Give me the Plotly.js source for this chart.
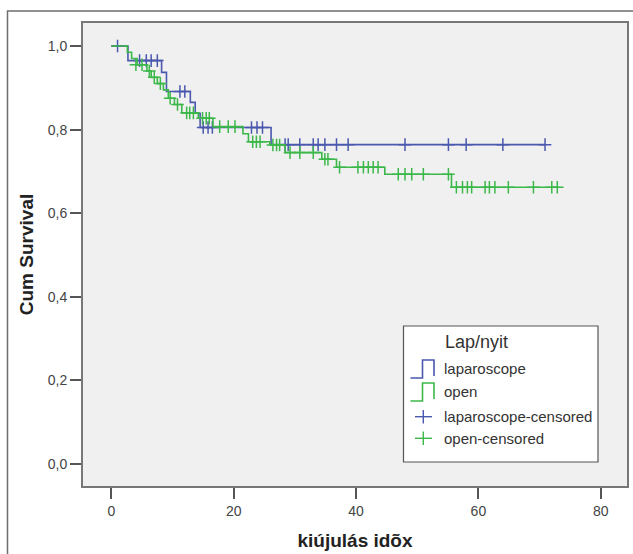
<!DOCTYPE html>
<html><head><meta charset="utf-8">
<script src="https://cdn.plot.ly/plotly-3.0.1.min.js"></script>
<style>html,body{margin:0;padding:0;background:#fff}#chart{width:633px;height:554px}</style>
</head><body><div id="chart"></div>
<script>
// Kaplan-Meier step data (time, cumulative survival after event)
const lapTimes = [0, 2.7, 8.2, 9.0, 12.9, 13.7, 14.5, 26.1, 70.9];
const lapSurv  = [1.0, 0.965, 0.937, 0.891, 0.865, 0.839, 0.805, 0.764, 0.764];
const lapCensTimes = [1.0, 4.6, 5.7, 6.5, 7.5, 11.2, 12.0, 15.0, 15.8, 16.5, 22.9, 23.8, 24.7,
  28.4, 28.9, 30.8, 33.0, 33.8, 34.9, 36.8, 38.7, 48.0, 55.1, 58.0, 64.0, 70.9];
const lapCensSurv = [1.0, 0.965, 0.965, 0.965, 0.965, 0.891, 0.891, 0.805, 0.805, 0.805, 0.805, 0.805, 0.805,
  0.764, 0.764, 0.764, 0.764, 0.764, 0.764, 0.764, 0.764, 0.764, 0.764, 0.764, 0.764, 0.764];

const openTimes = [0, 2.6, 3.3, 4.2, 5.8, 6.5, 7.5, 8.5, 9.3, 10.3, 11.5, 14.2, 16.6, 21.5, 22.4, 25.9, 28.4, 34.4, 36.8, 44.7, 55.6, 73.2];
const openSurv  = [1.0, 0.985, 0.97, 0.955, 0.94, 0.925, 0.91, 0.895, 0.875, 0.86, 0.84, 0.827, 0.807, 0.79, 0.771, 0.763, 0.745, 0.729, 0.71, 0.693, 0.662, 0.662];
const openCensTimes = [4.0, 5.0, 6.2, 7.0, 8.0, 9.6, 10.8, 12.3, 12.8, 13.4, 14.9, 15.5, 16.0, 17.7, 19.1, 20.2,
  23.1, 23.7, 24.3, 26.4, 27.0, 27.5, 29.2, 30.8, 33.0, 34.9, 35.4, 37.3, 40.3, 41.2, 42.0, 42.8, 43.6,
  46.9, 48.0, 49.1, 51.0, 55.1, 56.4, 57.4, 58.2, 58.9, 61.1, 61.8, 62.7, 64.9, 69.0, 72.0, 72.9];
const openCensSurv = [0.955, 0.955, 0.94, 0.925, 0.91, 0.875, 0.86, 0.84, 0.84, 0.84, 0.827, 0.827, 0.827, 0.807, 0.807, 0.807,
  0.771, 0.771, 0.771, 0.763, 0.763, 0.763, 0.745, 0.745, 0.745, 0.729, 0.729, 0.71, 0.71, 0.71, 0.71, 0.71, 0.71,
  0.693, 0.693, 0.693, 0.693, 0.693, 0.662, 0.662, 0.662, 0.662, 0.662, 0.662, 0.662, 0.662, 0.662, 0.662, 0.662];

const legendTitle = "Lap/nyit";
const legendLabels = ["laparoscope", "open", "laparoscope-censored", "open-censored"];
const xTicks = [0, 20, 40, 60, 80];
const yTicks = [0, 0.2, 0.4, 0.6, 0.8, 1.0];

const BLUE = '#4a58ad', GREEN = '#3cb84a';
const FONT = 'Liberation Sans, Arial, sans-serif';

const traces = [
  {x: lapTimes, y: lapSurv, mode: 'lines', line: {shape: 'hv', color: BLUE, width: 1.6}, hoverinfo: 'skip'},
  {x: lapCensTimes, y: lapCensSurv, mode: 'markers', marker: {symbol: 'cross-thin', size: 9, line: {color: BLUE, width: 1.5}}, hoverinfo: 'skip'},
  {x: openTimes, y: openSurv, mode: 'lines', line: {shape: 'hv', color: GREEN, width: 1.6}, hoverinfo: 'skip'},
  {x: openCensTimes, y: openCensSurv, mode: 'markers', marker: {symbol: 'cross-thin', size: 9, line: {color: GREEN, width: 1.5}}, hoverinfo: 'skip'}
];

// pixel -> paper helpers for the hand-drawn legend and frame
const L = 83, R = 6, T = 23, B = 68, W = 633, H = 554;
const pw = W - L - R, ph = H - T - B;
const px = v => (v - L) / pw;
const py = v => (H - B - v) / ph;

const shapes = [
  {type: 'rect', xref: 'paper', yref: 'paper', x0: px(7.5), x1: px(660), y0: py(600), y1: py(11), line: {color: '#6e6e6e', width: 1.5}, layer: 'below'},
  {type: 'rect', xref: 'paper', yref: 'paper', x0: px(403.5), x1: px(598), y0: py(462), y1: py(326), fillcolor: '#ffffff', line: {color: '#555', width: 1.2}},
  {type: 'path', xref: 'paper', yref: 'paper', path: `M ${px(410.5)} ${py(378)} H ${px(422.5)} V ${py(360)} H ${px(434)} V ${py(376)}`, line: {color: BLUE, width: 1.6}},
  {type: 'path', xref: 'paper', yref: 'paper', path: `M ${px(410.5)} ${py(401)} H ${px(422.5)} V ${py(383)} H ${px(434)} V ${py(399)}`, line: {color: GREEN, width: 1.6}},
  {type: 'line', xref: 'paper', yref: 'paper', x0: px(415), x1: px(432), y0: py(416.7), y1: py(416.7), line: {color: BLUE, width: 1.4}},
  {type: 'line', xref: 'paper', yref: 'paper', x0: px(423.3), x1: px(423.3), y0: py(410), y1: py(423.5), line: {color: BLUE, width: 1.4}},
  {type: 'line', xref: 'paper', yref: 'paper', x0: px(415), x1: px(432), y0: py(438.3), y1: py(438.3), line: {color: GREEN, width: 1.4}},
  {type: 'line', xref: 'paper', yref: 'paper', x0: px(423.3), x1: px(423.3), y0: py(431.5), y1: py(445), line: {color: GREEN, width: 1.4}}
];

const annY = [368, 391, 416.5, 438.5];
const annotations = [
  {xref: 'paper', yref: 'paper', x: px(476), y: py(341.5), text: legendTitle, showarrow: false, xanchor: 'center', yanchor: 'middle', font: {family: FONT, size: 18, color: '#333'}}
].concat(legendLabels.map((t, i) => ({
  xref: 'paper', yref: 'paper', x: px(441.5), y: py(annY[i]), text: t, showarrow: false, xanchor: 'left', yanchor: 'middle', font: {family: FONT, size: 15, color: '#333'}
})));

const layout = {
  width: W, height: H,
  margin: {l: L, r: R, t: T, b: B, pad: 0},
  paper_bgcolor: '#ffffff', plot_bgcolor: '#f0f0f0',
  separators: ',.',
  showlegend: false,
  font: {family: FONT, size: 14, color: '#444'},
  xaxis: {
    range: [-4.65, 84.3], tickvals: xTicks, tickformat: 'd',
    ticks: 'outside', ticklen: 11, tickwidth: 2, tickcolor: '#555',
    showgrid: false, zeroline: false, showline: true, mirror: true, linecolor: '#777', linewidth: 2,
    tickfont: {family: FONT, size: 14, color: '#444'},
    title: {text: 'kiújulás idõx', font: {family: FONT, size: 19, color: '#222', weight: 'bold'}, standoff: 16}
  },
  yaxis: {
    range: [-0.0526, 1.055], tickvals: yTicks, tickformat: '.1f',
    ticks: 'outside', ticklen: 11, tickwidth: 2, tickcolor: '#555',
    showgrid: false, zeroline: false, showline: true, mirror: true, linecolor: '#777', linewidth: 2,
    tickfont: {family: FONT, size: 14, color: '#444'},
    title: {text: 'Cum Survival', font: {family: FONT, size: 19, color: '#222', weight: 'bold'}, standoff: 9}
  },
  shapes: shapes,
  annotations: annotations
};

Plotly.newPlot('chart', traces, layout, {displayModeBar: false, staticPlot: true});
</script>
</body></html>
